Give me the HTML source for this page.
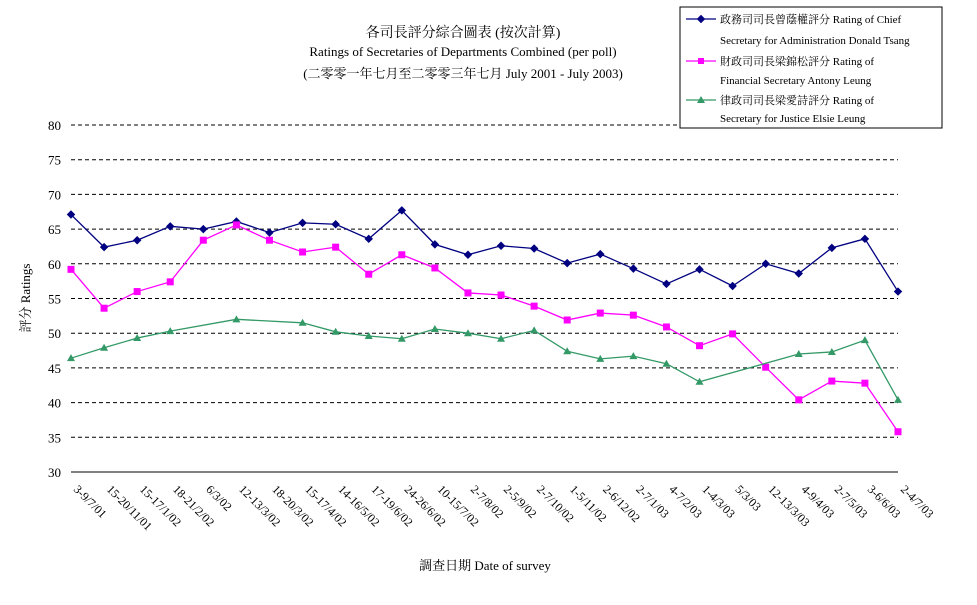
<!DOCTYPE html>
<html><head><meta charset="utf-8"><style>
body{margin:0;background:#fff;width:977px;height:600px;overflow:hidden}
svg text{font-family:"Liberation Serif","Noto Serif CJK SC","Noto Sans CJK TC",serif;fill:#000}
</style></head><body>
<svg id="chart" width="977" height="600" xmlns="http://www.w3.org/2000/svg">
<g font-size="13" text-anchor="middle">
<text x="463" y="37" font-size="14">各司長評分綜合圖表 (按次計算)</text>
<text x="463" y="56">Ratings of Secretaries of Departments Combined (per poll)</text>
<text x="463" y="78">(二零零一年七月至二零零三年七月 July 2001 - July 2003)</text>
</g>
<g id="grid"></g>
<g id="yticks" font-size="13" text-anchor="end"></g>
<g id="xticks" font-size="12"></g>
<g id="series"></g>
<text x="30" y="298" font-size="13" text-anchor="middle" transform="rotate(-90 30 298)">評分 Ratings</text>
<text x="485" y="570" font-size="13" text-anchor="middle">調查日期 Date of survey</text>
<g font-size="11">
<rect x="680" y="7" width="262" height="121" fill="#fff" stroke="#000"/>
<g>
<line x1="686" y1="19" x2="716" y2="19" stroke="#000080" stroke-width="1.2"/><rect x="698" y="16" width="6" height="6" fill="#000080" transform="rotate(45 701 19)"/>
<text x="720" y="23">政務司司長曾蔭權評分 Rating of Chief</text><text x="720" y="44">Secretary for Administration Donald Tsang</text></g>
<g>
<line x1="686" y1="61" x2="716" y2="61" stroke="#ff00ff" stroke-width="1.2"/><rect x="698" y="58" width="6" height="6" fill="#ff00ff"/>
<text x="720" y="65">財政司司長梁錦松評分 Rating of</text><text x="720" y="84">Financial Secretary Antony Leung</text></g>
<g>
<line x1="686" y1="100" x2="716" y2="100" stroke="#339966" stroke-width="1.2"/><polygon points="701,96 705,103 697,103" fill="#339966"/>
<text x="720" y="104">律政司司長梁愛詩評分 Rating of</text><text x="720" y="122">Secretary for Justice Elsie Leung</text></g>
</g>
</svg>
<script>
const categories=["3-9/7/01","15-20/11/01","15-17/1/02","18-21/2/02","6/3/02","12-13/3/02","18-20/3/02","15-17/4/02","14-16/5/02","17-19/6/02","24-26/6/02","10-15/7/02","2-7/8/02","2-5/9/02","2-7/10/02","1-5/11/02","2-6/12/02","2-7/1/03","4-7/2/03","1-4/3/03","5/3/03","12-13/3/03","4-9/4/03","2-7/5/03","3-6/6/03","2-4/7/03"];
const csValues=[67.1,62.4,63.4,65.4,65.0,66.1,64.5,65.9,65.7,63.6,67.7,62.8,61.3,62.6,62.2,60.1,61.4,59.3,57.1,59.2,56.8,60.0,58.6,62.3,63.6,56.0];
const fsValues=[59.2,53.6,56.0,57.4,63.4,65.6,63.4,61.7,62.4,58.5,61.3,59.4,55.8,55.5,53.9,51.9,52.9,52.6,50.9,48.2,49.9,45.1,40.4,43.1,42.8,35.8];
const sjValues=[46.4,47.9,49.3,50.3,null,52.0,null,51.5,50.2,49.6,49.2,50.6,50.0,49.2,50.4,47.4,46.3,46.7,45.6,43.0,null,null,47.0,47.3,49.0,40.4];
const yTicks=[30,35,40,45,50,55,60,65,70,75,80];
const NS="http://www.w3.org/2000/svg";
const X0=71,X1=898,Y0=472,Y1=125,YMIN=30,YMAX=80;
function xs(i){return X0+i*(X1-X0)/(categories.length-1);}
function ys(v){return Y0-(v-YMIN)/(YMAX-YMIN)*(Y0-Y1);}
function mk(t,a,p){const e=document.createElementNS(NS,t);for(const k in a)e.setAttribute(k,a[k]);p.appendChild(e);return e;}
const grid=document.getElementById('grid'),yt=document.getElementById('yticks'),xt=document.getElementById('xticks'),ser=document.getElementById('series');
yTicks.forEach(v=>{
 if(v>YMIN){const l=mk('line',{x1:X0,x2:X1,y1:ys(v),y2:ys(v),stroke:'#000','stroke-dasharray':'4,3'},grid);
 
 }
 const t=mk('text',{x:X0-10,y:ys(v)+5},yt);t.textContent=v;
 
 
});
const ax=mk('line',{x1:X0,x2:X1,y1:Y0,y2:Y0,stroke:'#000'},grid);


categories.forEach((c,i)=>{const x=xs(i);
 const t=mk('text',{x:x+2,y:Y0+18,transform:'rotate(45 '+(x+2)+' '+(Y0+18)+')'},xt);t.textContent=c;
 
 
});
function draw(vals,color,shape,name){
 const pts=[];vals.forEach((v,i)=>{if(v!=null)pts.push([xs(i),ys(v)]);});
 const pl=mk('polyline',{points:pts.map(p=>p.join(',')).join(' '),fill:'none',stroke:color,'stroke-width':1.3},ser);
 
 
 pts.forEach(p=>{let m;
  if(shape==='d')m=mk('rect',{x:p[0]-3,y:p[1]-3,width:6,height:6,fill:color,transform:'rotate(45 '+p[0]+' '+p[1]+')'},ser);
  else if(shape==='s')m=mk('rect',{x:p[0]-3.5,y:p[1]-3.5,width:7,height:7,fill:color},ser);
  else m=mk('polygon',{points:(p[0])+','+(p[1]-4)+' '+(p[0]+4)+','+(p[1]+3)+' '+(p[0]-4)+','+(p[1]+3),fill:color},ser);
  
  
 });
}
draw(csValues,'#000080','d','chief-secretary');
draw(fsValues,'#ff00ff','s','financial-secretary');
draw(sjValues,'#339966','t','secretary-for-justice');
</script>
</body></html>
